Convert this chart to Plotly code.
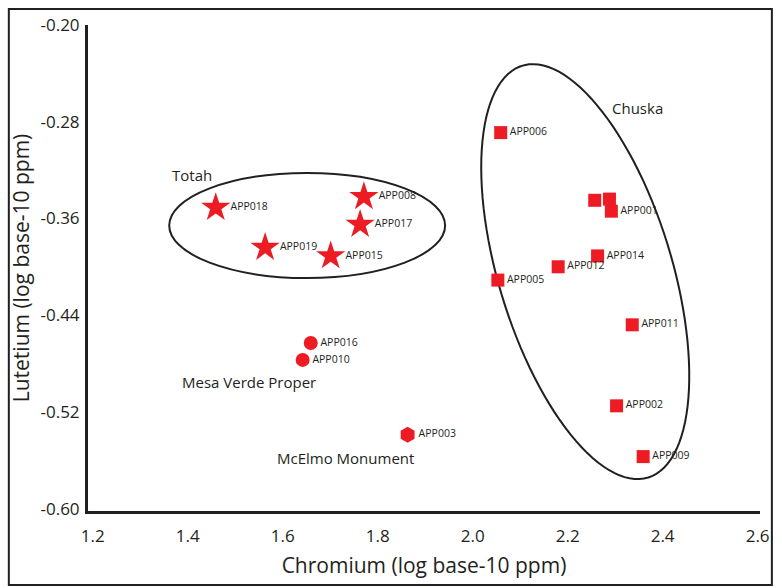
import numpy as np
import plotly.graph_objects as go

# ---- data (log10 ppm) ----
totah_ids = ["APP018", "APP008", "APP017", "APP019", "APP015"]
totah_cr = [1.459, 1.771, 1.763, 1.563, 1.701]
totah_lu = [-0.351, -0.342, -0.365, -0.384, -0.391]

mv_ids = ["APP016", "APP010"]
mv_cr = [1.659, 1.642]
mv_lu = [-0.463, -0.477]

mc_ids = ["APP003"]
mc_cr = [1.863]
mc_lu = [-0.539]

chuska_ids = ["APP006", "", "", "APP001", "APP014", "APP012", "APP005", "APP011", "APP002", "APP009"]
chuska_cr = [2.059, 2.257, 2.288, 2.292, 2.263, 2.180, 2.053, 2.336, 2.303, 2.359]
chuska_lu = [-0.289, -0.345, -0.344, -0.354, -0.391, -0.400, -0.411, -0.448, -0.515, -0.557]

x_ticks = [1.2, 1.4, 1.6, 1.8, 2.0, 2.2, 2.4, 2.6]
x_tick_labels = ["1.2", "1.4", "1.6", "1.8", "2.0", "2.2", "2.4", "2.6"]
y_ticks = [-0.20, -0.28, -0.36, -0.44, -0.52, -0.60]
y_tick_labels = ["-0.20", "-0.28", "-0.36", "-0.44", "-0.52", "-0.60"]

group_names = ["Totah", "Chuska", "Mesa Verde Proper", "McElmo Monument"]
group_label_x = [1.409, 2.346, 1.528, 1.732]
group_label_y = [-0.324, -0.2687, -0.4953, -0.558]

# ---- styling ----
RED = "#ED1C24"
INK = "#231F20"
FONT = "Open Sans"
X_RANGE = [1.19, 2.605]
Y_RANGE = [-0.602, -0.2]
W, H = 782, 588
ML, MR, MT, MB = 88, 15, 25, 77
PW, PH = W - ML - MR, H - MT - MB
px_per_x = PW / (X_RANGE[1] - X_RANGE[0])
px_per_y = PH / (Y_RANGE[1] - Y_RANGE[0])

fig = go.Figure()

def add_group(xs, ys, ids, symbol, size):
    fig.add_trace(go.Scatter(
        x=xs, y=ys, text=ids, mode="markers+text",
        marker=dict(symbol=symbol, size=size, color=RED, line=dict(width=0)),
        textposition="middle right",
        textfont=dict(family=FONT, size=10.5, color=INK),
        showlegend=False, hoverinfo="skip", cliponaxis=False,
    ))

add_group(totah_cr, totah_lu, totah_ids, "star", 22)
add_group(mv_cr, mv_lu, mv_ids, "circle", 14)
add_group(mc_cr, mc_lu, mc_ids, "hexagon", 16)
add_group(chuska_cr, chuska_lu, chuska_ids, "square", 13)

# Totah ellipse (axis aligned)
fig.add_shape(type="circle", xref="x", yref="y",
              x0=1.361, x1=1.942, y0=-0.3224, y1=-0.4093,
              line=dict(color=INK, width=2), layer="below")

# Chuska ellipse (tilted) - semi-axes in screen pixels around a data centre
cx, cy = 2.237, -0.404
a_px, b_px, tilt = 215.5, 87.5, np.deg2rad(17.2)
t = np.linspace(0, 2 * np.pi, 120)
dxp = a_px * np.cos(t) * np.sin(tilt) + b_px * np.sin(t) * np.cos(tilt)
dyp = a_px * np.cos(t) * np.cos(tilt) - b_px * np.sin(t) * np.sin(tilt)
ex = cx + dxp / px_per_x
ey = cy - dyp / px_per_y
path = "M " + " L ".join(f"{x:.5f},{y:.5f}" for x, y in zip(ex, ey)) + " Z"
fig.add_shape(type="path", xref="x", yref="y", path=path,
              line=dict(color=INK, width=2), layer="below")

for name, gx, gy in zip(group_names, group_label_x, group_label_y):
    fig.add_annotation(x=gx, y=gy, text=name, showarrow=False,
                       font=dict(family=FONT, size=15, color=INK))

# outer frame (figure pixels: x 8..779, y 9..585)
fig.add_shape(type="rect", xref="paper", yref="paper",
              x0=(8 - ML) / PW, x1=(779 - ML) / PW,
              y0=-(585 - (H - MB)) / PH, y1=((H - MB) - 9) / PH,
              line=dict(color=INK, width=2))

fig.update_xaxes(range=X_RANGE, tickvals=x_ticks, ticktext=x_tick_labels,
                 showgrid=False, zeroline=False, showline=True, linecolor=INK, linewidth=3,
                 ticks="", ticklabelstandoff=8,
                 tickfont=dict(family=FONT, size=17, color=INK),
                 title=dict(text="Chromium (log base-10 ppm)", standoff=12,
                            font=dict(family=FONT, size=21, color=INK)))
fig.update_yaxes(range=Y_RANGE, tickvals=y_ticks, ticktext=y_tick_labels,
                 showgrid=False, zeroline=False, showline=True, linecolor=INK, linewidth=3,
                 ticks="", ticklabelstandoff=2,
                 tickfont=dict(family=FONT, size=17, color=INK),
                 title=dict(text="Lutetium (log base-10 ppm)", standoff=6,
                            font=dict(family=FONT, size=21, color=INK)))

fig.update_layout(width=W, height=H, autosize=False,
                  margin=dict(l=ML, r=MR, t=MT, b=MB),
                  paper_bgcolor="white", plot_bgcolor="white")

fig.write_html("out.html", config={"displayModeBar": False, "staticPlot": True},
               post_script="document.body.style.margin='0';document.body.style.overflow='hidden';")
